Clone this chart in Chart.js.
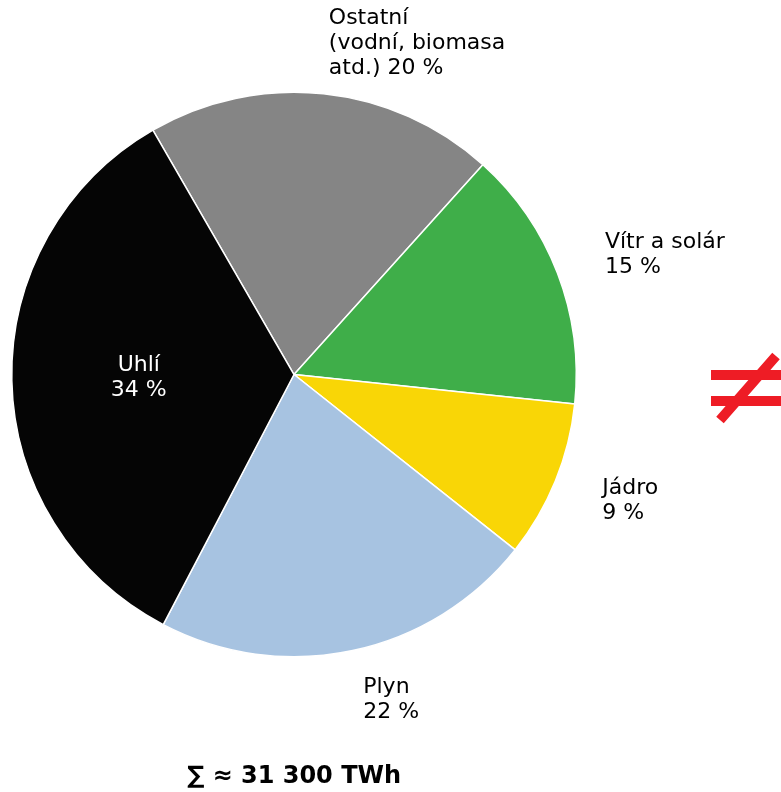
<!DOCTYPE html>
<html>
<head>
<meta charset="utf-8">
<script src="https://cdn.jsdelivr.net/npm/chart.js@4/dist/chart.umd.min.js"></script>
<style>
  html, body { margin: 0; padding: 0; background: #fff; }
  #wrap { width: 781px; height: 792px; position: relative; }
</style>
</head>
<body>
<div id="wrap"><canvas id="pie"></canvas></div>
<script>
'use strict';
var labels = [["Ostatní", "(vodní, biomasa", "atd.) 20 %"], ["Vítr a solár", "15 %"], ["Jádro", "9 %"], ["Plyn", "22 %"], ["Uhlí", "34 %"]];
var shares = [20, 15, 9, 22, 34];
var colors = ["#858585", "#3fae49", "#f9d606", "#a7c3e1", "#050505"];
var totalText = "∑ ≈ 31 300 TWh";

var FONT = '"DejaVu Sans", sans-serif';

// labels around the pie + total + red "not equal" sign
var labelPlugin = {
    id: 'labelPlugin',
    afterDraw: function (chart) {
        var ctx = chart.ctx;
        var arcs = chart.getDatasetMeta(0).data;
        ctx.save();
        ctx.font = '22px ' + FONT;
        ctx.textBaseline = 'middle';
        arcs.forEach(function (arc, i) {
            var p = arc.getProps(['x', 'y', 'startAngle', 'endAngle', 'outerRadius'], true);
            var mid = (p.startAngle + p.endAngle) / 2;
            var lines = labels[i];
            var inside = i === 4;
            var r = p.outerRadius * (inside ? 0.55 : 1.18);
            var cx = p.x + Math.cos(mid) * r;
            var cy = p.y + Math.sin(mid) * r;
            ctx.fillStyle = inside ? '#ffffff' : '#000000';
            ctx.textAlign = inside ? 'center' : 'left';
            var lh = 25;
            var y0 = cy - (lines.length - 1) * lh / 2;
            lines.forEach(function (t, k) {
                ctx.fillText(t, cx, y0 + k * lh);
            });
        });
        // total
        ctx.font = 'bold 24px ' + FONT;
        ctx.textAlign = 'center';
        ctx.fillStyle = '#000';
        ctx.fillText(totalText, 294, 777);
        // not-equal sign
        ctx.strokeStyle = '#ee1c25';
        ctx.lineWidth = 10;
        ctx.beginPath();
        ctx.moveTo(711, 375); ctx.lineTo(790, 375);
        ctx.moveTo(711, 401); ctx.lineTo(790, 401);
        ctx.moveTo(720, 420); ctx.lineTo(776, 356);
        ctx.stroke();
        ctx.restore();
    }
};

new Chart(document.getElementById('pie'), {
    type: 'pie',
    data: {
        labels: labels.map(function (l) { return l.join(' '); }),
        datasets: [{
            data: shares,
            backgroundColor: colors,
            borderColor: '#ffffff',
            borderWidth: 1.5
        }]
    },
    options: {
        responsive: true,
        maintainAspectRatio: false,
        animation: false,
        rotation: -30,
        layout: { padding: { left: 11, right: 204, top: 91, bottom: 134 } },
        plugins: {
            legend: { display: false },
            tooltip: { enabled: false }
        }
    },
    plugins: [labelPlugin]
});
</script>
</body>
</html>
